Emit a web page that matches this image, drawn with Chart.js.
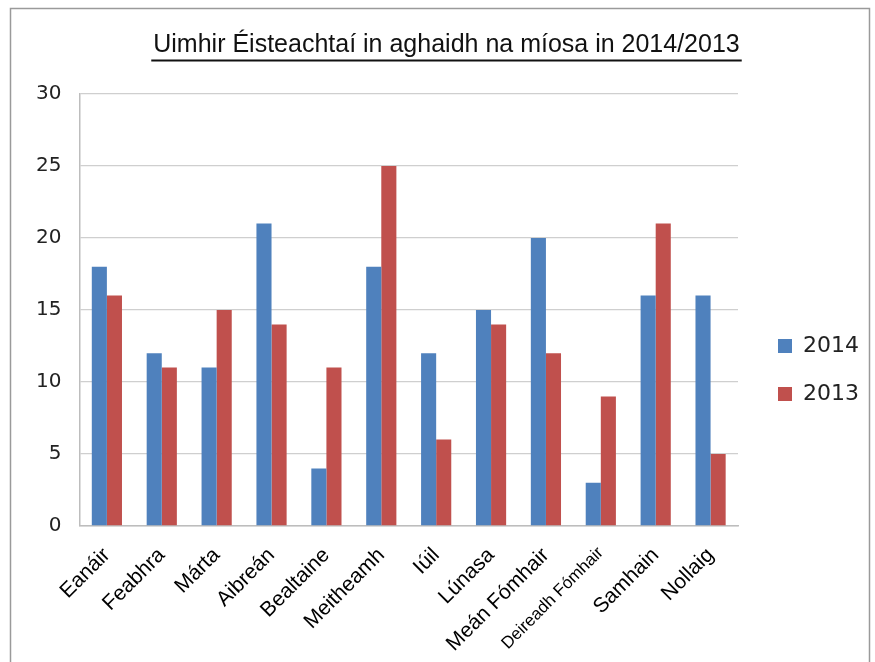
<!DOCTYPE html>
<html>
<head>
<meta charset="utf-8">
<script src="https://cdn.jsdelivr.net/npm/chart.js@4/dist/chart.umd.min.js"></script>
<style>
  html, body { margin: 0; padding: 0; background: #fff; }
</style>
</head>
<body>
<canvas id="chart" width="875" height="662"></canvas>
<script>
/* Data */
const months = ["Eanáir", "Feabhra", "Márta", "Aibreán", "Bealtaine", "Meitheamh",
    "Iúil", "Lúnasa", "Meán Fómhair", "Deireadh Fómhair", "Samhain", "Nollaig"];
const series2014 = [18, 12, 11, 21, 4, 18, 12, 15, 20, 3, 16, 16];
const series2013 = [16, 11, 15, 14, 11, 25, 6, 14, 12, 9, 21, 5];
const yTicks = [0, 5, 10, 15, 20, 25, 30];

const titleText = "Uimhir Éisteachtaí in aghaidh na míosa in 2014/2013";
const arial = "'Liberation Sans', Arial, sans-serif";
const dejavu = "'DejaVu Sans', sans-serif";

/* frame round the picture, line under the title, legend + title nudged */
const decor = {
    id: "decor",
    afterLayout(chart){
        const lg = chart.legend;
        lg.top += 24;
        lg.bottom += 24;
        lg.left += 14;
        lg.right += 14;
        const t = chart.titleBlock;
        t.left += 10;
        t.right += 10;
    },
    afterDraw(chart){
        const ctx = chart.ctx;
        ctx.save();
        ctx.strokeStyle = "#9a9a9a";
        ctx.lineWidth = 1.5;
        ctx.strokeRect(10.5, 8.5, 859, 700);
        const t = chart.titleBlock;
        ctx.font = "25px " + arial;
        const w = ctx.measureText(titleText).width;
        const cx = (t.left + t.right) / 2;
        ctx.strokeStyle = "#111";
        ctx.lineWidth = 2;
        ctx.beginPath();
        ctx.moveTo(cx - w / 2 - 2, 60.5);
        ctx.lineTo(cx + w / 2 + 2, 60.5);
        ctx.stroke();
        ctx.restore();
    }
};

new Chart(document.getElementById("chart"), {
    type: "bar",
    data: {
        labels: months,
        datasets: [
            {label: "2014", data: series2014, backgroundColor: "#4F81BD"},
            {label: "2013", data: series2013, backgroundColor: "#C0504D"}
        ]
    },
    options: {
        responsive: false,
        animation: false,
        devicePixelRatio: 1,
        datasets: {
            bar: {categoryPercentage: 0.55, barPercentage: 1.0}
        },
        layout: {padding: {left: 18, right: 20, top: 30, bottom: 0}},
        plugins: {
            title: {
                display: true,
                text: titleText,
                color: "#111",
                font: {family: arial, size: 25, weight: "normal"},
                padding: {top: 0, bottom: 34}
            },
            legend: {
                position: "right",
                labels: {
                    boxWidth: 14,
                    boxHeight: 14,
                    padding: 26,
                    color: "#222",
                    font: {family: dejavu, size: 22}
                }
            },
            tooltip: {enabled: false}
        },
        scales: {
            y: {
                min: 0,
                max: 30,
                afterBuildTicks: function(axis){
                    axis.ticks = yTicks.map(v => ({value: v}));
                },
                ticks: {
                    color: "#222",
                    padding: 18,
                    font: {family: dejavu, size: 20}
                },
                grid: {color: "#cfcfcf", lineWidth: 1.2, drawTicks: false},
                border: {color: "#bdbdbd", width: 1.5}
            },
            x: {
                afterFit: function(axis){
                    axis.height -= 4;
                },
                ticks: {
                    color: "#000",
                    maxRotation: 45,
                    minRotation: 45,
                    autoSkip: false,
                    padding: 9,
                    font: function(c){
                        const size = c.index == 9 ? 17 : 21;
                        return {family: arial, size: size};
                    }
                },
                grid: {display: false},
                border: {color: "#bdbdbd", width: 1.5}
            }
        }
    },
    plugins: [decor]
});
</script>
</body>
</html>
